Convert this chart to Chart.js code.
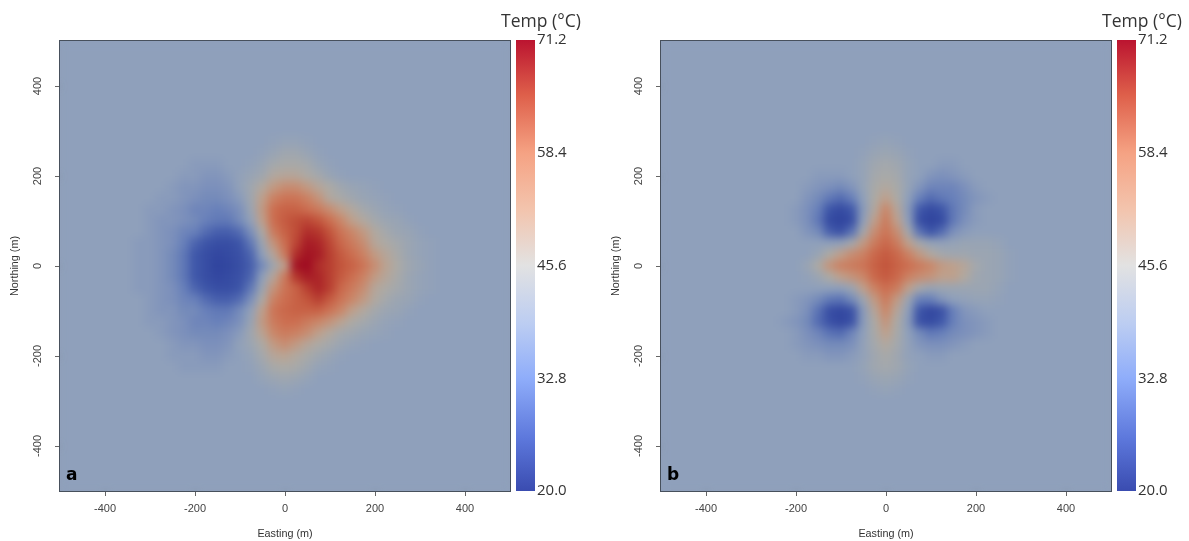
<!DOCTYPE html>
<html><head><meta charset="utf-8">
<style>html,body{margin:0;padding:0;background:#fff;overflow:hidden}canvas{position:absolute;top:0}
#pa{left:0}#ca{left:500px}#pb{left:601px}#cb{left:1101px}</style>
<script src="https://cdn.jsdelivr.net/npm/chart.js@4"></script></head>
<body>
<canvas id="pa" width="515" height="541"></canvas>
<canvas id="ca" width="82" height="541"></canvas>
<canvas id="pb" width="515" height="541"></canvas>
<canvas id="cb" width="82" height="541"></canvas>
<script>
const axisTicks=[-400,-200,0,200,400];
const barTicks=[20.0,32.8,45.6,58.4,71.2];
const backgroundTemp=38;
const eastingA=[-350,-325,-300,-275,-250,-225,-200,-175,-150,-125,-100,-75,-50,-25,0,25,50,75,100,125,150,175,200,225,250,275,300,325,350];
const northing=[300,275,250,225,200,175,150,125,100,75,50,25,0,-25,-50,-75,-100,-125,-150,-175,-200,-225,-250,-275,-300];
const tempA=[
[38,38,38,38,38,38,38,38,38,38,38,38,38,38,38,38,38,38,38,38,38,38,38,38,38,38,38,38,38],
[38,38,38,38,38,38,38,38,38,38,38,38,38,39,40,40,39,38,38,38,38,38,38,38,38,38,38,38,38],
[38,38,38,38,38,38,38,38,38,38,38,38,39,41,43,43,41,39,38,38,38,38,38,38,38,38,38,38,38],
[38,38,38,38,38,38,37,37,37,38,38,39,41,44,45,45,44,41,39,38,38,38,38,38,38,38,38,38,38],
[38,38,38,38,38,37,37,36,36,37,39,41,43,47,48,48,46,44,41,39,38,38,38,38,38,38,38,38,38],
[38,38,38,38,37,36,36,35,35,36,39,43,47,51,53,53,51,48,46,43,41,40,39,38,38,38,38,38,38],
[38,38,38,37,37,36,35,34,34,35,37,43,50,55,57,57,55,52,47,45,43,41,40,39,38,38,38,38,38],
[38,38,37,37,36,35,33,33,32,33,35,42,51,58,60,60,58,56,53,50,47,44,42,40,39,38,38,38,38],
[38,38,37,36,36,35,34,32,31,31,34,39,50,58,61,63,64,62,58,54,50,47,44,42,41,39,38,38,38],
[38,38,37,36,35,33,32,29,27,27,29,35,46,56,60,63,67,66,62,57,54,51,47,44,42,41,39,38,38],
[38,37,37,36,35,32,28,25,23,23,25,31,42,52,58,64,69,68,64,59,56,53,48,46,44,42,40,39,38],
[38,37,37,36,34,31,26,23,21,22,24,28,38,48,56,67,70,69,65,61,58,55,51,48,45,42,40,39,38],
[38,37,37,36,34,31,26,23,20,21,23,27,34,43,50,70,71,67,65,62,60,57,53,49,46,43,41,39,38],
[38,37,37,36,34,31,26,23,21,22,24,28,38,48,56,66,69,68,65,61,58,55,51,48,45,42,40,39,38],
[38,37,37,36,35,32,28,25,23,23,25,31,42,52,57,60,65,68,65,59,56,53,48,46,44,42,40,39,38],
[38,38,37,36,35,33,32,29,27,27,29,35,46,55,58,60,62,65,61,57,54,51,47,44,42,41,39,38,38],
[38,38,37,36,36,34,34,32,31,31,34,39,50,57,59,60,60,60,57,54,50,47,44,42,41,39,38,38,38],
[38,38,37,37,36,35,33,33,32,33,35,41,51,56,58,58,56,54,52,49,46,44,42,40,39,38,38,38,38],
[38,38,38,37,36,35,34,34,34,35,37,43,49,54,56,55,53,50,47,44,43,41,40,39,38,38,38,38,38],
[38,38,38,38,37,36,36,35,35,36,39,42,46,51,53,51,48,46,44,42,40,39,38,38,38,38,38,38,38],
[38,38,38,38,37,37,37,36,36,37,38,40,44,48,49,47,45,43,41,39,38,38,38,38,38,38,38,38,38],
[38,38,38,38,38,37,37,37,37,38,38,39,42,45,46,45,43,40,39,38,38,38,38,38,38,38,38,38,38],
[38,38,38,38,38,38,38,38,38,38,38,38,40,42,43,42,40,38,38,38,38,38,38,38,38,38,38,38,38],
[38,38,38,38,38,38,38,38,38,38,38,38,38,39,40,39,38,38,38,38,38,38,38,38,38,38,38,38,38],
[38,38,38,38,38,38,38,38,38,38,38,38,38,38,38,38,38,38,38,38,38,38,38,38,38,38,38,38,38]
];
const eastingB=[-300,-275,-250,-225,-200,-175,-150,-125,-100,-75,-50,-25,0,25,50,75,100,125,150,175,200,225,250,275,300];
const tempB=[
[38,38,38,38,38,38,38,38,38,38,38,38,38,38,38,38,38,38,38,38,38,38,38,38,38],
[38,38,38,38,38,38,38,38,38,38,38,39,40,39,38,38,38,38,38,38,38,38,38,38,38],
[38,38,38,38,38,38,38,38,38,38,39,41,42,41,39,38,38,38,38,38,38,38,38,38,38],
[38,38,38,38,38,38,38,38,38,38,40,43,44,43,40,38,38,37,37,38,38,38,38,38,38],
[38,38,38,38,38,38,37,37,37,38,40,44,45,44,40,38,36,35,36,37,38,38,38,38,38],
[38,38,38,38,38,37,36,35,34,36,40,45,47,45,40,36,33,33,33,35,37,38,38,38,38],
[38,38,38,38,38,36,34,31,29,32,38,46,50,46,38,32,29,31,32,34,36,37,38,38,38],
[38,38,38,38,37,35,32,25,22,26,37,47,54,48,37,26,22,25,31,34,37,38,38,38,38],
[38,38,38,38,37,35,31,22,20,23,38,50,56,50,38,23,20,22,31,35,37,38,38,38,38],
[38,38,38,38,38,36,34,27,24,30,44,53,57,53,44,30,25,29,35,37,38,38,38,38,38],
[38,38,38,38,38,38,38,38,39,44,51,56,59,56,50,44,40,39,40,41,41,41,40,38,38],
[38,38,38,38,38,38,41,46,50,53,55,59,61,59,55,51,47,44,43,43,42,42,41,39,38],
[38,38,38,38,38,41,46,52,55,56,57,60,62,60,58,56,54,51,50,48,44,42,41,39,38],
[38,38,38,38,38,39,42,46,50,52,54,59,61,59,55,53,52,50,50,47,43,42,41,39,38],
[38,38,38,38,38,38,38,38,38,42,50,55,58,56,50,44,41,42,42,42,42,42,40,38,38],
[38,38,38,38,37,36,34,31,30,34,42,51,56,51,42,32,32,36,38,39,40,40,39,38,38],
[38,38,38,38,37,35,30,23,21,24,37,48,54,48,38,25,21,24,32,36,37,38,38,38,38],
[38,38,38,37,36,34,29,24,21,24,37,46,52,46,37,24,22,26,32,35,36,37,38,38,38],
[38,38,38,38,37,35,33,30,29,33,38,45,50,45,38,34,31,32,34,35,36,37,38,38,38],
[38,38,38,38,37,36,35,34,34,35,39,44,47,44,39,36,35,35,36,37,38,38,38,38,38],
[38,38,38,38,38,37,37,36,36,37,39,43,45,43,39,38,37,37,38,38,38,38,38,38,38],
[38,38,38,38,38,38,38,38,38,38,40,43,44,43,40,38,38,38,38,38,38,38,38,38,38],
[38,38,38,38,38,38,38,38,38,38,39,41,42,41,39,38,38,38,38,38,38,38,38,38,38],
[38,38,38,38,38,38,38,38,38,38,38,39,40,39,38,38,38,38,38,38,38,38,38,38,38],
[38,38,38,38,38,38,38,38,38,38,38,38,38,38,38,38,38,38,38,38,38,38,38,38,38]
];
const panelRamp=[[20,[48,68,158]],[26,[64,88,170]],[32,[104,128,186]],[38,[143,160,187]],[42,[155,165,178]],[46,[172,170,165]],[50,[190,160,140]],[54,[202,135,105]],[58,[204,110,80]],[62,[195,85,60]],[66,[180,55,45]],[71.2,[158,8,32]]];
const barRamp=[[20,'#3a4cb0'],[26,'#5d78dc'],[32.8,'#8fadfa'],[39,'#bccdf2'],[45.6,'#e2e2e2'],[52,'#f3c4ad'],[58.4,'#f5a283'],[65,'#de5f4a'],[71.2,'#bb1430']];
function tempColour(t){
  let i=0;while(i<panelRamp.length-2&&t>panelRamp[i+1][0])i++;
  const [a,ca]=panelRamp[i],[b,cb]=panelRamp[i+1],f=Math.min(1,Math.max(0,(t-a)/(b-a)));
  return 'rgb('+ca.map((v,k)=>Math.round(v+(cb[k]-v)*f)).join(',')+')';
}
function cells(xs,rows){const out=[];rows.forEach((r,j)=>r.forEach((t,i)=>out.push({x:xs[i],y:northing[j],t})));return out;}
const smooth=letter=>({id:'smooth'+letter,
  beforeDatasetsDraw(c){const a=c.chartArea,x=c.ctx;x.save();x.fillStyle=tempColour(backgroundTemp);x.fillRect(a.left,a.top,a.width,a.height);x.restore();},
  afterDatasetsDraw(c){const a=c.chartArea,x=c.ctx;x.save();x.beginPath();x.rect(a.left,a.top,a.width,a.height);x.clip();x.filter='blur(4px)';x.drawImage(x.canvas,0,0);x.restore();},
  afterDraw(c){const a=c.chartArea,x=c.ctx;x.save();x.strokeStyle='#47505c';x.lineWidth=1;x.strokeRect(a.left-.5,a.top-.5,a.width+1,a.height+1);
    x.fillStyle='#000';x.font='bold 17px "DejaVu Sans"';x.textBaseline='middle';x.fillText(letter,a.left+6,a.bottom-15);x.restore();}
});
function panel(id,letter,xs,rows){
  const tickCfg={color:'#444',font:{family:'"Liberation Sans"',size:11}};
  const ttl={family:'"Liberation Sans"',size:10.8};
  new Chart(document.getElementById(id),{type:'scatter',
    data:{datasets:[{data:cells(xs,rows),pointStyle:'rect',pointRadius:8.6,pointBorderWidth:0,pointHoverRadius:8.6,
      pointBackgroundColor:c=>tempColour(c.raw?c.raw.t:backgroundTemp)}]},
    plugins:[smooth(letter)],
    options:{responsive:false,animation:false,events:[],layout:{autoPadding:false,padding:{left:0,right:5,top:41,bottom:0}},
      plugins:{legend:{display:false},tooltip:{enabled:false}},
      scales:{
        x:{type:'linear',min:-500,max:500,afterBuildTicks:s=>{s.ticks=axisTicks.map(value=>({value}))},
          afterFit:s=>{s.height=50;s.paddingLeft=0;s.paddingRight=0},grid:{display:true,drawOnChartArea:false,tickLength:5,color:'#666'},border:{display:false},
          ticks:{...tickCfg,maxRotation:0,padding:6},
          title:{display:true,text:'Easting (m)',color:'#333',font:ttl,padding:{top:7,bottom:0}}},
        y:{type:'linear',min:-500,max:500,afterBuildTicks:s=>{s.ticks=axisTicks.map(value=>({value}))},
          afterFit:s=>{s.width=60},grid:{display:true,drawOnChartArea:false,tickLength:5,color:'#666'},border:{display:false},
          ticks:{...tickCfg,minRotation:90,maxRotation:90,crossAlign:'center',padding:6},
          title:{display:true,text:'Northing (m)',color:'#333',font:ttl,padding:{top:9,bottom:0}}}
      }}});
}
function colourBar(id){
  new Chart(document.getElementById(id),{type:'bar',
    data:{labels:['Temp'],datasets:[{data:[[barTicks[0],barTicks[4]]],yAxisID:'y',barPercentage:1,categoryPercentage:1,borderWidth:0,
      backgroundColor:c=>{const s=c.chart.scales.y;if(!s||!isFinite(s.top))return '#ccc';
        const g=c.chart.ctx.createLinearGradient(0,s.getPixelForValue(20),0,s.getPixelForValue(71.2));
        barRamp.forEach(([t,col])=>g.addColorStop((t-20)/51.2,col));return g;}}]},
    options:{responsive:false,animation:false,events:[],layout:{padding:{left:0,right:0,top:0,bottom:50}},
      plugins:{legend:{display:false},tooltip:{enabled:false},
        title:{display:true,text:'Temp (°C)',color:'#333',font:{family:'"Open Sans"',size:17.5,weight:'normal',lineHeight:1.2},padding:{top:12,bottom:7}}},
      scales:{x:{display:false},
        spacer:{position:'left',min:0,max:1,afterFit:s=>{s.width=16},grid:{display:false},border:{display:false},ticks:{display:false}},
        y:{position:'right',min:20,max:71.2,afterBuildTicks:s=>{s.ticks=barTicks.map(value=>({value}))},
          afterFit:s=>{s.width=47},grid:{display:false,drawTicks:false,tickLength:0},border:{display:false},
          ticks:{color:'#333',padding:2,font:{family:'"Open Sans"',size:15},callback:v=>v.toFixed(1)}}}}});
}
panel('pa','a',eastingA,tempA);
panel('pb','b',eastingB,tempB);
colourBar('ca');
colourBar('cb');
</script></body></html>
